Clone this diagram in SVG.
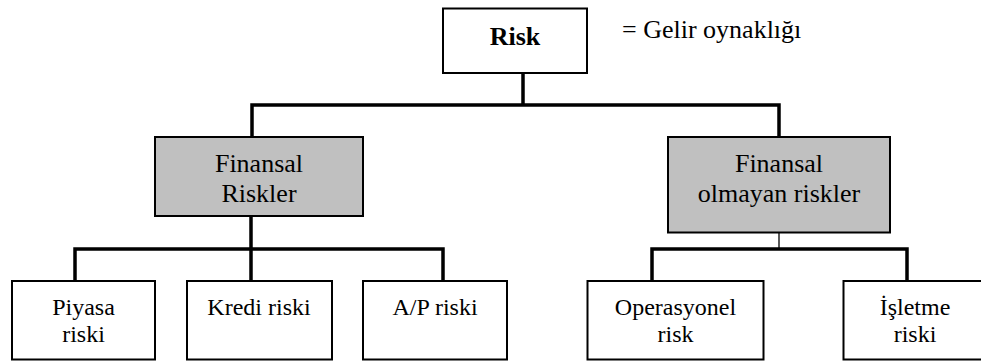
<svg xmlns="http://www.w3.org/2000/svg" width="981" height="361" viewBox="0 0 981 361">
  <style>
    .box { fill: #ffffff; stroke: #000000; stroke-width: 2; }
    .grey { fill: #c0c0c0; stroke: #000000; stroke-width: 2; }
    .t { font-family: "Liberation Serif", "Times New Roman", serif; fill: #000000; text-anchor: middle; }
    .mid { font-size: 26px; }
    .leaf { font-size: 24px; }
    .link { fill: none; stroke: #000000; stroke-width: 3.5; stroke-linecap: square; }
    .thin { fill: none; stroke: #000000; stroke-width: 1.3; }
  </style>
  <rect width="981" height="361" fill="#ffffff"/>

  <g id="connectors">
    <!-- root to second level -->
    <path class="link" d="M523,73 V105 M252,105 H779 M252,105 V137 M779,105 V137"/>
    <!-- financial risks to their children -->
    <path class="link" d="M251,216 V249 M75,249 H443 M75,249 V281 M251,249 V281 M443,249 V281"/>
    <!-- non-financial risks to their children -->
    <path class="thin" d="M779,232 V249"/>
    <path class="link" d="M652,249 H907 M652,249 V281 M907,249 V281"/>
  </g>

  <g id="risk">
    <rect class="box" x="443" y="8.5" width="144" height="64.5"/>
    <text class="t mid" x="515" y="45" font-weight="bold">Risk</text>
  </g>
  <g id="risk-note">
    <text class="t mid" x="622" y="37.5" style="text-anchor:start">= Gelir oynaklığı</text>
  </g>

  <g id="finansal-riskler">
    <rect class="grey" x="155" y="137" width="208" height="79"/>
    <text class="t mid" x="259" y="172">Finansal</text>
    <text class="t mid" x="259" y="201.5">Riskler</text>
  </g>
  <g id="finansal-olmayan-riskler">
    <rect class="grey" x="668" y="137" width="222" height="95.5"/>
    <text class="t mid" x="779" y="172">Finansal</text>
    <text class="t mid" x="779" y="201.5">olmayan riskler</text>
  </g>

  <g id="piyasa-riski">
    <rect class="box" x="12" y="281" width="143" height="78.5"/>
    <text class="t leaf" x="83.5" y="315">Piyasa</text>
    <text class="t leaf" x="83.5" y="342">riski</text>
  </g>
  <g id="kredi-riski">
    <rect class="box" x="187" y="281" width="145" height="78.5"/>
    <text class="t leaf" x="259" y="315">Kredi riski</text>
  </g>
  <g id="ap-riski">
    <rect class="box" x="363" y="281" width="144" height="78.5"/>
    <text class="t leaf" x="435" y="315">A/P riski</text>
  </g>
  <g id="operasyonel-risk">
    <rect class="box" x="587.5" y="281" width="176" height="78.5"/>
    <text class="t leaf" x="675.5" y="315">Operasyonel</text>
    <text class="t leaf" x="675.5" y="342">risk</text>
  </g>
  <g id="isletme-riski">
    <rect class="box" x="843.5" y="281" width="144" height="78.5"/>
    <text class="t leaf" x="915" y="315">İşletme</text>
    <text class="t leaf" x="915" y="342">riski</text>
  </g>
</svg>
